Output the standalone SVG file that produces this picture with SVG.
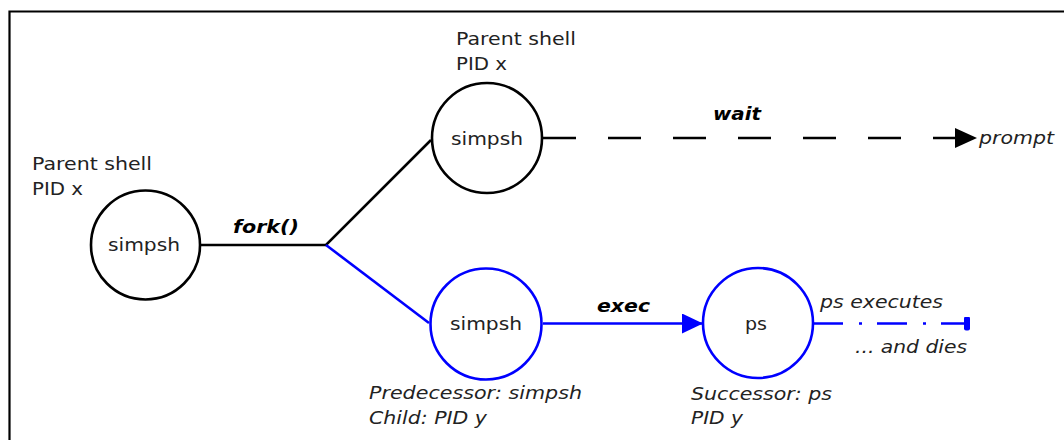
<svg xmlns="http://www.w3.org/2000/svg" width="1064" height="440" viewBox="0 0 1064 440">
  <style>
    .frame { fill: none; stroke: #000; stroke-width: 2.2; }
    .proc { fill: #fff; stroke: #000; stroke-width: 2.6; }
    .proc.child { stroke: #0000ff; }
    .lbl { font-family: "DejaVu Sans", Verdana, sans-serif; font-size: 18.5px; fill: #222; }
    .it { font-style: italic; }
    .op { font-family: "DejaVu Sans", Verdana, sans-serif; font-size: 18.5px; font-weight: bold; font-style: italic; fill: #000; }
    .edge { fill: none; stroke: #000; stroke-width: 2.6; }
    .edge.blue { stroke: #0000ff; }
  </style>
  <defs>
    <marker id="arrowBlack" viewBox="0 0 22 20" refX="22" refY="10" markerWidth="22" markerHeight="20" markerUnits="userSpaceOnUse" orient="auto">
      <path d="M0,0 L22,10 L0,20 Z" fill="#000"/>
    </marker>
    <marker id="arrowBlue" viewBox="0 0 21 20" refX="21" refY="10" markerWidth="21" markerHeight="20" markerUnits="userSpaceOnUse" orient="auto">
      <path d="M0,0 L21,10 L0,20 Z" fill="#0000ff"/>
    </marker>
    <marker id="endBar" viewBox="0 0 8 14" refX="4" refY="7" markerWidth="8" markerHeight="14" markerUnits="userSpaceOnUse" orient="auto">
      <rect x="1" y="0" width="6" height="14" rx="2" fill="#0000ff"/>
    </marker>
  </defs>

  <rect width="1064" height="440" fill="#fff"/>
  <!-- outer frame: top and left edges -->
  <path class="frame" d="M9.5,440 L9.5,11.5 L1064,11.5"/>

  <g id="connectors">
    <path class="edge" d="M200,245 L326,245 L431,140"/>
    <path class="edge blue" d="M326,245 L429,323"/>
    <path class="edge" d="M543,138 L977,138" stroke-dasharray="33 32" marker-end="url(#arrowBlack)"/>
    <path class="edge blue" d="M543,323.5 L703,323.5" marker-end="url(#arrowBlue)"/>
    <path class="edge blue" d="M813,323.5 L967,323.5" stroke-dasharray="30 16 3 15" marker-end="url(#endBar)"/>
    <text class="op" x="233" y="233" textLength="66" lengthAdjust="spacingAndGlyphs">fork()</text>
    <text class="op" x="713" y="120" textLength="48" lengthAdjust="spacingAndGlyphs">wait</text>
    <text class="op" x="597" y="312" textLength="53" lengthAdjust="spacingAndGlyphs">exec</text>
    <text class="lbl it" x="979" y="143.5" textLength="75" lengthAdjust="spacingAndGlyphs">prompt</text>
    <text class="lbl it" x="820" y="308" textLength="123" lengthAdjust="spacingAndGlyphs">ps executes</text>
    <text class="lbl it" x="855" y="352.5" textLength="112" lengthAdjust="spacingAndGlyphs">... and dies</text>
  </g>

  <g id="parent-before">
    <circle class="proc" cx="145.5" cy="245" r="54.5"/>
    <text class="lbl" x="108" y="251" textLength="72" lengthAdjust="spacingAndGlyphs">simpsh</text>
    <text class="lbl" x="32" y="169.5" textLength="120" lengthAdjust="spacingAndGlyphs">Parent shell</text>
    <text class="lbl" x="32" y="194.5" textLength="51" lengthAdjust="spacingAndGlyphs">PID x</text>
  </g>

  <g id="parent-after">
    <circle class="proc" cx="487" cy="138" r="55"/>
    <text class="lbl" x="451" y="144.5" textLength="72" lengthAdjust="spacingAndGlyphs">simpsh</text>
    <text class="lbl" x="456" y="45" textLength="120" lengthAdjust="spacingAndGlyphs">Parent shell</text>
    <text class="lbl" x="456" y="70" textLength="51" lengthAdjust="spacingAndGlyphs">PID x</text>
  </g>

  <g id="child-simpsh">
    <circle class="proc child" cx="486" cy="324" r="55.5"/>
    <text class="lbl" x="450" y="330" textLength="72" lengthAdjust="spacingAndGlyphs">simpsh</text>
    <text class="lbl it" x="369" y="398.5" textLength="213" lengthAdjust="spacingAndGlyphs">Predecessor: simpsh</text>
    <text class="lbl it" x="369" y="423.5" textLength="118" lengthAdjust="spacingAndGlyphs">Child: PID y</text>
  </g>

  <g id="child-ps">
    <circle class="proc child" cx="758" cy="323" r="55"/>
    <text class="lbl" x="745" y="330" textLength="22" lengthAdjust="spacingAndGlyphs">ps</text>
    <text class="lbl it" x="691" y="400" textLength="141" lengthAdjust="spacingAndGlyphs">Successor: ps</text>
    <text class="lbl it" x="691" y="424" textLength="52" lengthAdjust="spacingAndGlyphs">PID y</text>
  </g>
</svg>
